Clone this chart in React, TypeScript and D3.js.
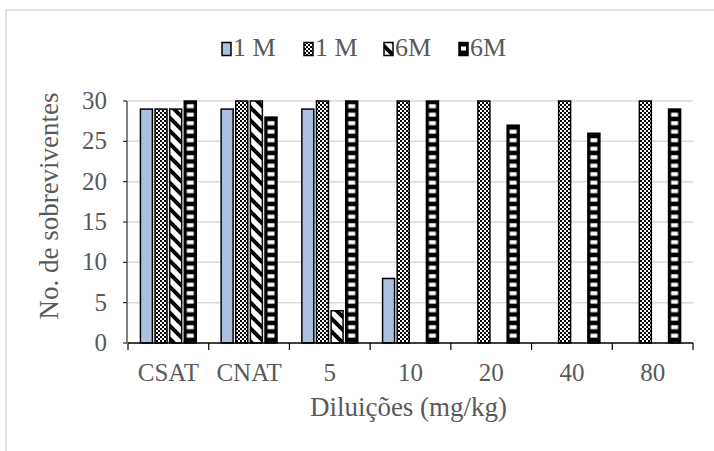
import React from "react";
import * as d3 from "d3";

const categories = ["CSAT", "CNAT", "5", "10", "20", "40", "80"];
const seriesNames = ["1 M", "1 M", "6M", "6M"];
const blue1M = [29, 29, 29, 8, 0, 0, 0];
const dots1M = [29, 30, 30, 30, 30, 30, 30];
const diag6M = [29, 30, 4, 0, 0, 0, 0];
const stripes6M = [30, 28, 30, 30, 27, 26, 29];
const yTicks = [0, 5, 10, 15, 20, 25, 30];

const seriesValues = [blue1M, dots1M, diag6M, stripes6M];
const fills = ["#abc1df", "url(#dots)", "url(#diag)", "stripes"];

const W = 714;
const H = 451;
const margin = { left: 128, right: 21, top: 101, bottom: 108 };
const FONT = "'Liberation Serif', 'Times New Roman', serif";
const TEXT = "#595959";

const App: React.FC = () => {
  const x0 = d3
    .scaleBand<string>()
    .domain(categories)
    .range([margin.left, W - margin.right]);
  const x1 = d3
    .scaleBand<number>()
    .domain(d3.range(seriesNames.length))
    .range([0, x0.bandwidth()])
    .paddingInner(0.18)
    .paddingOuter(0.85);
  const y = d3
    .scaleLinear()
    .domain([0, 30])
    .range([H - margin.bottom, margin.top]);

  const legendX = [222, 304, 384, 459];

  return (
    <svg
      width={W}
      height={H}
      style={{ position: "absolute", left: 0, top: 0, background: "#fff" }}
    >
      <defs>
        <pattern id="dots" patternUnits="userSpaceOnUse" width={4} height={4}>
          <rect width={4} height={4} fill="#fff" />
          <rect x={0} y={0} width={2} height={2} fill="#000" />
          <rect x={2} y={2} width={2} height={2} fill="#000" />
        </pattern>
        <pattern id="diag" patternUnits="userSpaceOnUse" width={13} height={13}>
          <rect width={13} height={13} fill="#fff" />
          <path
            d="M-3,-3 L16,16 M-3,10 L3,16 M10,-3 L16,3"
            stroke="#000"
            strokeWidth={4}
          />
        </pattern>
        {categories.map((c, i) => (
          <pattern
            key={c}
            id={`stripes-${i}`}
            patternUnits="userSpaceOnUse"
            x={x0(c)! + x1(3)!}
            y={0}
            width={x1.bandwidth()}
            height={8.5}
          >
            <rect width={x1.bandwidth()} height={8.5} fill="#000" />
            <rect x={2.5} y={2.2} width={x1.bandwidth() - 5} height={4} fill="#fff" />
          </pattern>
        ))}
        <pattern id="stripes-legend" patternUnits="userSpaceOnUse" x={459} y={42} width={9} height={13}>
          <rect width={9} height={13} fill="#000" />
          <rect x={2} y={4.5} width={5} height={4} fill="#fff" />
        </pattern>
      </defs>

      {/* chart area border */}
      <rect x={6} y={10} width={740} height={480} fill="#fff" stroke="#d9d9d9" strokeWidth={1.5} />

      {/* gridlines */}
      {yTicks.slice(1).map((t) => (
        <line
          key={t}
          x1={margin.left}
          x2={W - margin.right}
          y1={y(t)}
          y2={y(t)}
          stroke="#d9d9d9"
          strokeWidth={1.5}
        />
      ))}

      {/* bars */}
      {seriesValues.map((vals, s) =>
        vals.map((v, i) =>
          v > 0 ? (
            <rect
              key={`${s}-${i}`}
              x={x0(categories[i])! + x1(s)!}
              y={y(v)}
              width={x1.bandwidth()}
              height={y(0) - y(v)}
              fill={fills[s] === "stripes" ? `url(#stripes-${i})` : fills[s]}
              stroke="#000"
              strokeWidth={1.5}
            />
          ) : null
        )
      )}

      {/* y axis */}
      <line x1={margin.left - 1} x2={margin.left - 1} y1={y(30)} y2={y(0)} stroke="#000" strokeWidth={1} />
      {yTicks.map((t) => (
        <g key={t}>
          <line x1={margin.left - 5} x2={margin.left - 1} y1={y(t)} y2={y(t)} stroke="#000" strokeWidth={1} />
          <text
            x={107}
            y={y(t) + 8}
            textAnchor="end"
            fontFamily={FONT}
            fontSize={25}
            fill={TEXT}
          >
            {t}
          </text>
        </g>
      ))}

      {/* x axis */}
      <line
        x1={margin.left}
        x2={W - margin.right}
        y1={y(0)}
        y2={y(0)}
        stroke="#000"
        strokeWidth={1.5}
      />
      {[...categories.map((c) => x0(c)!), W - margin.right].map((xv, i) => (
        <line key={i} x1={xv} x2={xv} y1={y(0)} y2={y(0) + 7} stroke="#000" strokeWidth={1.2} />
      ))}
      {categories.map((c) => (
        <text
          key={c}
          x={x0(c)! + x0.bandwidth() / 2}
          y={381}
          textAnchor="middle"
          fontFamily={FONT}
          fontSize={25}
          fill={TEXT}
        >
          {c}
        </text>
      ))}

      {/* axis titles */}
      <text
        x={(margin.left + W - margin.right) / 2 - 2}
        y={416}
        textAnchor="middle"
        fontFamily={FONT}
        fontSize={27}
        fill={TEXT}
      >
        Diluições (mg/kg)
      </text>
      <text
        transform={`translate(58,206) rotate(-90)`}
        textAnchor="middle"
        fontFamily={FONT}
        fontSize={27}
        fill={TEXT}
      >
        No. de sobreviventes
      </text>

      {/* legend */}
      {seriesNames.map((n, s) => (
        <g key={s}>
          <rect
            x={legendX[s]}
            y={42.5}
            width={9}
            height={13}
            fill={fills[s] === "stripes" ? "url(#stripes-legend)" : fills[s]}
            stroke="#000"
            strokeWidth={1.5}
          />
          <text x={legendX[s] + 11} y={56} fontFamily={FONT} fontSize={26} fill={TEXT}>
            {n}
          </text>
        </g>
      ))}
    </svg>
  );
};

export default App;
